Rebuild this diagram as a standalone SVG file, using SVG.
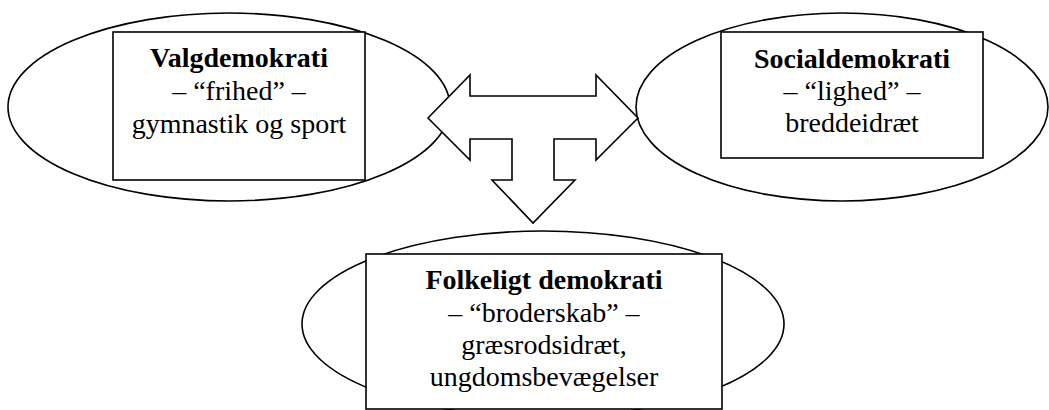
<svg xmlns="http://www.w3.org/2000/svg" width="1049" height="410" viewBox="0 0 1049 410">
<style>
.ell{fill:#fff;stroke:#000;stroke-width:1.6}
.box{fill:#fff;stroke:#000;stroke-width:1.6}
.arr{fill:#fff;stroke:#000;stroke-width:1.6;stroke-linejoin:miter}
text{font-family:"Liberation Serif","Times New Roman",serif;font-size:28px;fill:#000;text-anchor:middle}
.b{font-weight:bold}
</style>
<rect width="1049" height="410" fill="#fff"/>
<g id="valgdemokrati">
<ellipse class="ell" cx="229" cy="107" rx="221" ry="94"/>
<rect class="box" x="113" y="32" width="252" height="148"/>
<text x="239" y="67" class="b">Valgdemokrati</text>
<text x="239" y="100">– “frihed” –</text>
<text x="239" y="133">gymnastik og sport</text>
</g>
<g id="socialdemokrati">
<ellipse class="ell" cx="842" cy="107" rx="206" ry="94"/>
<rect class="box" x="721" y="32" width="262" height="126"/>
<text x="852" y="68" class="b">Socialdemokrati</text>
<text x="852" y="100">– “lighed” –</text>
<text x="852" y="132">breddeidræt</text>
</g>
<g id="connectors">
<polygon class="arr" points="428,118 470,75 470,96 596,96 596,75 638,118 596,160 596,139 554,139 554,180 575,180 533,223 492,180 512,180 512,139 470,139 470,160"/>
</g>
<g id="folkeligt">
<ellipse class="ell" cx="543" cy="324" rx="241" ry="93"/>
<rect class="box" x="366" y="254" width="356" height="155"/>
<text x="544" y="289" class="b">Folkeligt demokrati</text>
<text x="544" y="322">– “broderskab” –</text>
<text x="544" y="354">græsrodsidræt,</text>
<text x="544" y="386">ungdomsbevægelser</text>
</g>
</svg>
